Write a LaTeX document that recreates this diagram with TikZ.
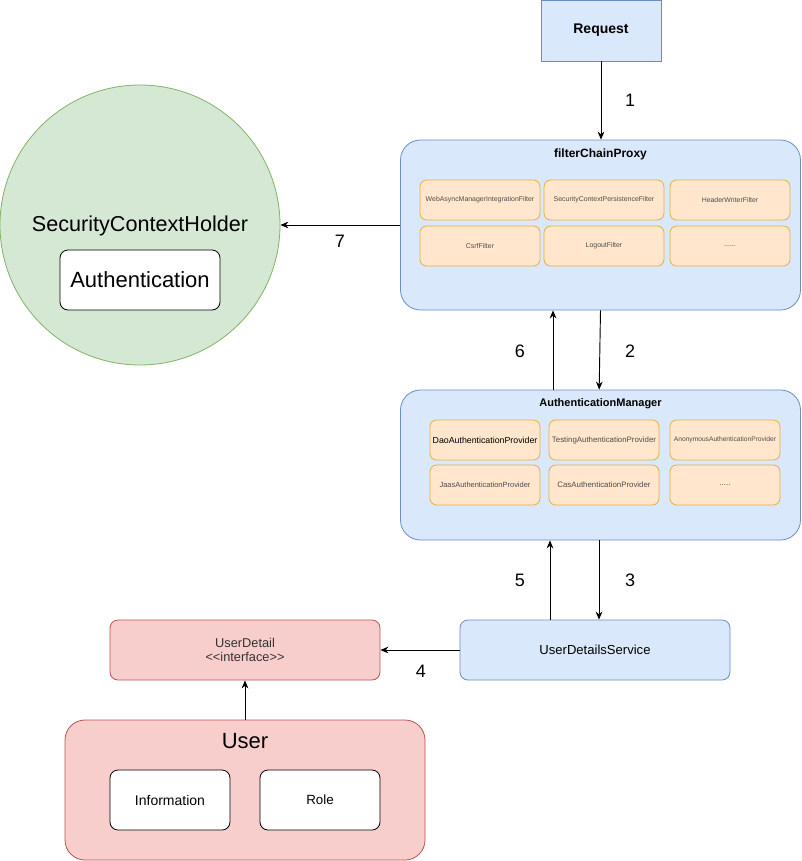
\documentclass[tikz,border=0pt]{standalone}
\usepackage{fontspec}
\setmainfont{Liberation Sans}
\usetikzlibrary{arrows.meta}
\definecolor{bluefill}{HTML}{DAE8FC}
\definecolor{bluedraw}{HTML}{6C8EBF}
\definecolor{orfill}{HTML}{FFE6CC}
\definecolor{ordraw}{HTML}{D79B00}
\definecolor{greenfill}{HTML}{D5E8D4}
\definecolor{greendraw}{HTML}{82B366}
\definecolor{redfill}{HTML}{F8CECC}
\definecolor{reddraw}{HTML}{B85450}
\definecolor{smalltxt}{HTML}{4D4D4D}
\tikzset{
  bluebox/.style={draw=bluedraw, fill=bluefill, line width=0.6pt, inner sep=0pt},
  orbox/.style={draw=ordraw!70!orfill, fill=orfill, line width=0.6pt, rounded corners=5pt, inner sep=0pt, text=smalltxt},
  redbox/.style={draw=reddraw, fill=redfill, line width=0.6pt, inner sep=0pt},
  whitebox/.style={draw=black, fill=white, line width=0.6pt, rounded corners=6pt, inner sep=0pt},
  arr/.style={-{Stealth[length=6pt,width=5pt]}, line width=0.7pt},
  num/.style={font=\fontsize{13.5}{15}\selectfont},
  tiny/.style={font=\fontsize{5.2}{6}\selectfont},
}
\begin{document}
\begin{tikzpicture}[x=0.75pt,y=-0.75pt]
\useasboundingbox (0,0) rectangle (801,861);
% Request
\node[bluebox, minimum width=90pt, minimum height=45.75pt, font=\bfseries\fontsize{10.5}{12}\selectfont] (req) at (601,30.5) {Request};
% filterChainProxy
\node[bluebox, rounded corners=15pt, minimum width=300pt, minimum height=127.5pt] (fcp) at (600.5,225) {};
\node[font=\bfseries\fontsize{9}{11}\selectfont] (fcpt) at (600.5,154) {filterChainProxy};
\node[orbox, tiny, minimum width=90pt, minimum height=30pt] (f1) at (480,200) {WebAsyncManagerIntegrationFilter};
\node[orbox, tiny, minimum width=90pt, minimum height=30pt] (f2) at (604,200) {SecurityContextPersistenceFilter};
\node[orbox, tiny, minimum width=90pt, minimum height=30pt] (f3) at (730,200) {HeaderWriterFilter};
\node[orbox, tiny, minimum width=90pt, minimum height=30pt] (f4) at (480,246) {CsrfFilter};
\node[orbox, tiny, minimum width=90pt, minimum height=30pt] (f5) at (604,246) {LogoutFilter};
\node[orbox, tiny, minimum width=90pt, minimum height=30pt] (f6) at (730,246) {......};
% SecurityContextHolder
\node[circle, draw=greendraw, fill=greenfill, line width=0.6pt, minimum size=210pt, inner sep=0pt] (sch) at (140,225) {};
\node[font=\fontsize{16.2}{19}\selectfont] (scht) at (140,226) {SecurityContextHolder};
\node[whitebox, minimum width=120pt, minimum height=45pt, font=\fontsize{16.5}{19}\selectfont] (auth) at (140,280) {Authentication};
% AuthenticationManager
\node[bluebox, rounded corners=15pt, minimum width=300pt, minimum height=112.5pt] (am) at (600.5,465) {};
\node[font=\bfseries\fontsize{8.25}{10}\selectfont] (amt) at (600.5,404) {AuthenticationManager};
\node[orbox, minimum width=82.5pt, minimum height=30pt, font=\fontsize{6.6}{8}\selectfont, text=black] (p1) at (485,440) {DaoAuthenticationProvider};
\node[orbox, minimum width=82.5pt, minimum height=30pt, font=\fontsize{5.9}{7}\selectfont] (p2) at (604,440) {TestingAuthenticationProvider};
\node[orbox, minimum width=82.5pt, minimum height=30pt, font=\fontsize{5}{6}\selectfont] (p3) at (725,440) {AnonymousAuthenticationProvider};
\node[orbox, minimum width=82.5pt, minimum height=30pt, font=\fontsize{5.6}{7}\selectfont] (p4) at (485,485) {JaasAuthenticationProvider};
\node[orbox, minimum width=82.5pt, minimum height=30pt, font=\fontsize{5.9}{7}\selectfont] (p5) at (604,485) {CasAuthenticationProvider};
\node[orbox, minimum width=82.5pt, minimum height=30pt, font=\fontsize{5.9}{7}\selectfont] (p6) at (725,485) {.....};
% UserDetailsService
\node[bluebox, rounded corners=6pt, minimum width=202.5pt, minimum height=45pt, font=\fontsize{9.8}{12}\selectfont] (uds) at (595,650) {UserDetailsService};
% UserDetail
\node[redbox, rounded corners=6pt, minimum width=202.5pt, minimum height=45pt, font=\fontsize{9.6}{11}\selectfont, align=center, text=black!80] (ud) at (245,650) {UserDetail\\[-1pt]{<}{<}interface{>}{>}};
% User
\node[redbox, rounded corners=15pt, minimum width=270pt, minimum height=105pt] (user) at (245,790) {};
\node[font=\fontsize{16.5}{19}\selectfont] (usert) at (245,741) {User};
\node[whitebox, minimum width=90pt, minimum height=45pt, font=\fontsize{10.5}{12}\selectfont] (info) at (170,800) {Information};
\node[whitebox, minimum width=90pt, minimum height=45pt, font=\fontsize{10}{12}\selectfont] (role) at (320,800) {Role};
% connectors
\draw[arr] (req.south) -- (req.south |- fcp.north);
\node[num] (n1) at (630,100) {1};
\draw[arr] (fcp.west |- sch.east) -- (sch.east);
\node[num] (n7) at (340,241) {7};
\draw[arr] (fcp.south) -- ([xshift=-1pt]am.north);
\node[num] (n2) at (630,351) {2};
\draw[arr] ([xshift=-35.6pt]am.north) -- ([xshift=-35.6pt]fcp.south);
\node[num] (n6) at (520,351) {6};
\draw[arr] ([xshift=3pt]uds.north |- am.south) -- ([xshift=3pt]uds.north);
\node[num] (n3) at (630,580) {3};
\draw[arr] ([xshift=-33.75pt]uds.north) -- ([xshift=-33.75pt]uds.north |- am.south);
\node[num] (n5) at (520,580) {5};
\draw[arr] (uds.west) -- (ud.east);
\node[num] (n4) at (421,671) {4};
\draw[arr] (user.north) -- (ud.south);
\end{tikzpicture}
\end{document}
